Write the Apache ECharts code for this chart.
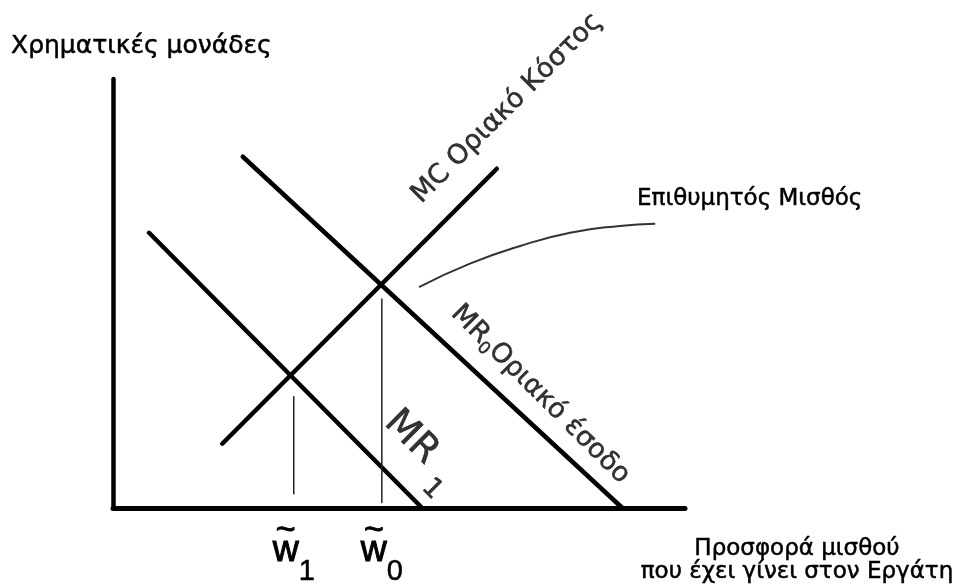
<!DOCTYPE html>
<html>
<head>
<meta charset="utf-8">
<script src="https://cdn.jsdelivr.net/npm/echarts@6/dist/echarts.min.js"></script>
<style>
html, body { margin: 0; background: #fff; }
#chart { width: 958px; height: 587px; }
</style>
</head>
<body>
<div id="chart"></div>
<script>
// values (x: wage offer, y: money units)
var mcLine = [[1.91, 1.12], [6.71, 5.93]];
var mr0Line = [[2.27, 6.14], [8.90, 0]];
var mr1Line = [[0.63, 4.81], [5.40, 0]];
var w0Guide = [[4.70, 0.09], [4.70, 3.65]];
var w1Guide = [[3.16, 0.245], [3.16, 1.94]];
var wishCurve = [[5.35, 3.86], [6.24, 4.27], [7.12, 4.58], [7.99, 4.81], [8.86, 4.93], [9.48, 4.97]];
var wageTicks = [3.16, 4.70];
var wageSubs = ['1', '0'];

var FONT = '"DejaVu Sans", sans-serif';
var W_FONT = '"Liberation Sans", sans-serif';

function segment(name, data, width, color) {
    return {
        name: name,
        type: 'line',
        data: data,
        showSymbol: false,
        silent: true,
        lineStyle: { color: color, width: width, cap: 'round' }
    };
}

// slightly heavier strokes, the original text is drawn bold-ish
function txt(size, extra) {
    var s = { fontFamily: FONT, fontSize: size, color: '#000', textBorderColor: '#000', textBorderWidth: 0.5 };
    for (var k in extra) s[k] = extra[k];
    return s;
}

var myChart = echarts.init(document.getElementById('chart'));

option = {
    animation: false,
    title: [
        {
            text: 'Χρηματικές μονάδες', left: 11, top: 33, padding: 0,
            textStyle: txt(25, { fontWeight: 'normal', lineHeight: 27 })
        },
        {
            text: 'Επιθυμητός Μισθός', left: 637, top: 187, padding: 0,
            textStyle: txt(23, { fontWeight: 'normal', lineHeight: 25 })
        },
        {
            text: 'Προσφορά μισθού\nπου έχει γίνει στον Εργάτη', left: 797, top: 538, padding: 0, textAlign: 'center',
            textStyle: txt(23, { fontWeight: 'normal', lineHeight: 23, align: 'center' })
        }
    ],
    grid: { left: 113, right: 273, top: 79, bottom: 79 },
    xAxis: {
        type: 'value', min: 0, max: 10,
        axisLine: { show: true, lineStyle: { color: '#000', width: 5 } },
        axisTick: { show: false },
        splitLine: { show: false },
        axisLabel: {
            customValues: wageTicks,
            margin: 21,
            formatter: function (v) {
                var i = wageTicks.indexOf(v);
                return '{t|~}\n{w|w}{s|' + wageSubs[i] + '}';
            },
            rich: {
                t: txt(34, { fontFamily: W_FONT, lineHeight: 4, padding: [0, 16, 0, 0], textBorderWidth: 1 }),
                w: txt(36, { fontFamily: W_FONT, lineHeight: 36, verticalAlign: 'top', textBorderWidth: 1 }),
                s: txt(29, { fontFamily: W_FONT, verticalAlign: 'bottom', padding: [25, 0, 0, 0] })
            }
        }
    },
    yAxis: {
        type: 'value', min: 0, max: 7.5,
        axisLine: { show: true, onZero: false, lineStyle: { color: '#000', width: 4.5 } },
        axisTick: { show: false },
        axisLabel: { show: false },
        splitLine: { show: false }
    },
    series: [
        segment('MC', mcLine, 4.5, '#000'),
        segment('MR0', mr0Line, 4.5, '#000'),
        segment('MR1', mr1Line, 4.5, '#000'),
        segment('w0', w0Guide, 1.5, '#222'),
        segment('w1', w1Guide, 1.5, '#222'),
        {
            name: 'wish', type: 'line', data: wishCurve, smooth: true, showSymbol: false, silent: true,
            lineStyle: { color: '#333', width: 2 }
        },
        {
            name: 'labels', type: 'scatter', symbolSize: 1, silent: true,
            itemStyle: { color: 'rgba(0,0,0,0)' },
            label: { show: true, position: 'inside', color: '#000', fontFamily: FONT },
            data: [
                {
                    value: [6.89, 6.99],
                    label: { rotate: 45, formatter: '{m|MC Οριακό Κόστος}', rich: { m: txt(27) } }
                },
                {
                    value: [7.47, 1.98],
                    label: {
                        rotate: -45, formatter: '{m|MR}{s|0}{m|Οριακό έσοδο}',
                        rich: { m: txt(27), s: txt(17, { padding: [16, 0, 0, 0] }) }
                    }
                },
                {
                    value: [5.40, 1.04],
                    label: {
                        rotate: -45, formatter: '{b|MR}{c|1}',
                        rich: { b: txt(38), c: txt(27, { padding: [44, 0, 0, 13] }) }
                    }
                }
            ]
        }
    ]
};

myChart.setOption(option);
</script>
</body>
</html>
